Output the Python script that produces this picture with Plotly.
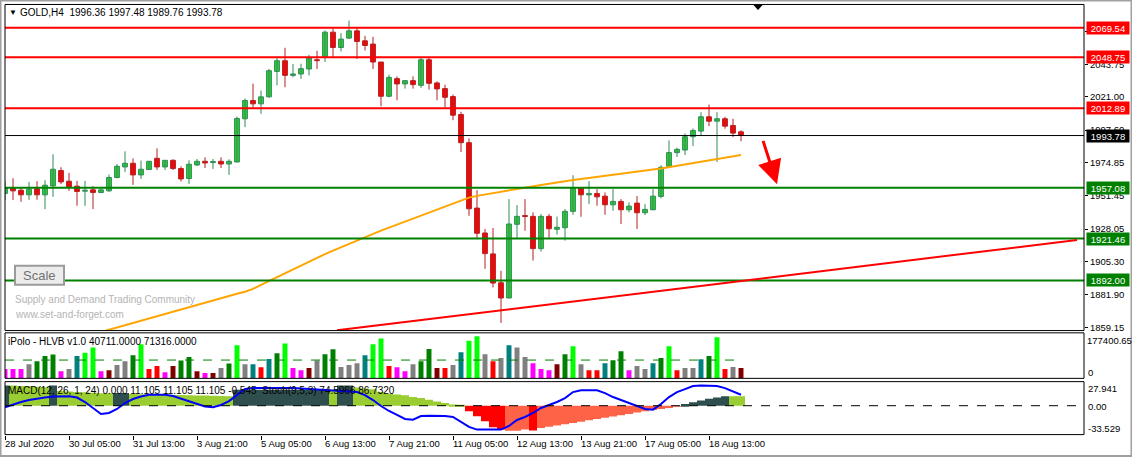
import plotly.graph_objects as go

W, H = 1132, 459

# ---------------- data ----------------
bars = list(range(93))
opens = [1953.11, 1956.60, 1955.41, 1952.13, 1956.32, 1952.13, 1958.42, 1969.19, 1961.71, 1958.21,
         1954.71, 1955.62, 1953.80, 1954.92, 1964.29, 1971.71, 1974.29, 1966.11, 1969.89, 1977.79,
         1971.71, 1976.39, 1970.59, 1963.60, 1973.11, 1975.69, 1974.79, 1975.69, 1973.80, 1975.20,
         2005.56, 2018.35, 2016.04, 2020.94, 2038.84, 2046.32, 2036.04, 2037.02, 2040.52, 2047.02,
         2048.63, 2066.39, 2055.62, 2062.20, 2067.30, 2060.31, 2058.00, 2045.41, 2021.36, 2033.74,
         2030.03, 2032.34, 2029.05, 2047.02, 2030.73, 2026.74, 2021.15, 2008.56, 1988.77, 1942.83,
         1925.34, 1910.66, 1890.38, 1879.68, 1931.43, 1937.58, 1937.02, 1914.36, 1937.02, 1927.93,
         1929.05, 1940.52, 1956.81, 1952.13, 1953.11, 1951.22, 1945.14, 1947.51, 1941.64, 1946.32,
         1939.54, 1941.64, 1951.01, 1971.99, 1981.78, 1983.60, 1992.97, 1996.88, 2006.95, 2003.88,
         2005.56, 2000.87, 1996.36]
highs = [1961.92, 1963.81, 1957.02, 1961.22, 1961.71, 1962.41, 1980.59, 1971.50, 1967.51, 1961.92,
         1961.92, 1958.21, 1956.32, 1966.39, 1973.80, 1982.69, 1977.79, 1976.18, 1975.69, 1984.78,
         1976.39, 1977.09, 1972.20, 1976.39, 1977.30, 1978.49, 1977.30, 1978.49, 1977.09, 2007.16,
         2019.75, 2030.24, 2025.34, 2040.52, 2048.21, 2055.41, 2044.02, 2044.22, 2050.52, 2053.32,
         2067.51, 2069.19, 2065.69, 2074.50, 2069.19, 2063.81, 2063.11, 2045.41, 2036.53, 2035.34,
         2032.83, 2035.34, 2048.21, 2048.63, 2031.85, 2029.54, 2022.55, 2010.45, 1991.78, 1955.41,
         1928.14, 1928.84, 1898.77, 1949.12, 1944.92, 1949.12, 1939.82, 1938.63, 1938.63, 1936.88,
         1942.13, 1965.90, 1956.81, 1961.71, 1956.11, 1953.80, 1956.11, 1949.12, 1946.81, 1951.22,
         1945.62, 1956.11, 1972.90, 1990.38, 1985.27, 1995.27, 1998.77, 2010.17, 2015.55, 2010.17,
         2006.95, 2005.56, 1997.48]
lows = [1948.42, 1948.42, 1947.23, 1948.63, 1948.63, 1942.13, 1950.73, 1959.61, 1954.92, 1944.44,
        1944.44, 1942.13, 1953.32, 1954.22, 1963.81, 1968.21, 1959.12, 1963.32, 1969.89, 1969.61,
        1969.61, 1969.61, 1961.50, 1959.82, 1972.41, 1971.01, 1970.31, 1971.01, 1966.11, 1974.99,
        1999.68, 2013.67, 2009.05, 2020.50, 2029.05, 2027.65, 2034.64, 2033.53, 2036.04, 2040.52,
        2045.41, 2048.63, 2052.83, 2061.50, 2047.51, 2053.53, 2040.52, 2014.36, 2020.66, 2018.56,
        2026.74, 2026.74, 2027.23, 2026.04, 2018.56, 2013.67, 2004.57, 1982.20, 1937.44, 1921.85,
        1900.17, 1887.09, 1862.20, 1879.50, 1921.64, 1926.95, 1905.97, 1912.27, 1921.85, 1924.16,
        1919.96, 1938.14, 1936.74, 1945.62, 1944.44, 1938.14, 1940.94, 1931.64, 1939.82, 1928.14,
        1937.93, 1941.40, 1949.61, 1971.80, 1978.70, 1980.10, 1986.39, 1994.09, 2000.38, 1975.20,
        1998.56, 1992.69, 1989.76]
closes = [1956.60, 1954.92, 1952.13, 1956.11, 1952.13, 1958.91, 1970.10, 1961.22, 1957.72, 1954.51,
          1955.41, 1953.80, 1955.62, 1964.29, 1972.20, 1974.29, 1966.11, 1970.10, 1975.69, 1971.71,
          1976.39, 1970.59, 1963.32, 1973.60, 1975.69, 1974.51, 1975.48, 1973.80, 1975.69, 2005.76,
          2018.35, 2016.04, 2020.94, 2039.33, 2046.32, 2036.04, 2037.02, 2040.73, 2048.21, 2046.32,
          2066.39, 2055.62, 2061.50, 2067.30, 2059.82, 2057.02, 2045.41, 2021.36, 2034.64, 2030.03,
          2032.34, 2029.54, 2047.02, 2030.45, 2026.53, 2020.66, 2008.07, 1988.77, 1942.34, 1925.13,
          1910.87, 1890.17, 1879.68, 1931.64, 1937.02, 1936.88, 1914.36, 1937.02, 1928.35, 1929.33,
          1940.52, 1956.81, 1952.13, 1953.11, 1950.73, 1945.14, 1947.51, 1941.64, 1944.22, 1939.54,
          1941.92, 1951.22, 1971.50, 1981.78, 1984.08, 1992.97, 1997.37, 2006.95, 2003.88, 2005.56,
          2000.38, 1995.48, 1993.78]
ma_values = [None] * 12 + [
    1855.8, 1857.4, 1859.1, 1860.7, 1862.3, 1863.9, 1865.5, 1867.1, 1868.7, 1870.3,
    1871.9, 1873.5, 1875.1, 1876.6, 1878.1, 1879.6, 1881.1, 1882.6, 1884.1, 1886.1,
    1888.9, 1891.6, 1894.4, 1897.2, 1900.0, 1902.8, 1905.3, 1907.9, 1910.5, 1913.0,
    1915.4, 1917.7, 1920.0, 1922.3, 1924.7, 1927.0, 1929.1, 1931.2, 1933.3, 1935.5,
    1937.6, 1939.7, 1941.8, 1943.9, 1946.1, 1948.1, 1950.2, 1951.4, 1952.4, 1953.4,
    1954.4, 1955.4, 1956.5, 1957.4, 1958.2, 1959.1, 1959.9, 1960.9, 1961.7, 1962.6,
    1963.3, 1964.1, 1964.8, 1965.6, 1966.3, 1967.0, 1967.8, 1968.5, 1969.2, 1970.0,
    1970.7, 1971.6, 1972.6, 1973.5, 1974.5, 1975.4, 1976.4, 1977.3, 1978.2, 1979.2,
    1980.1]

resistance_levels = [2069.54, 2048.75, 2012.89]
support_levels = [1957.08, 1921.46, 1892.00]
last_price = 1993.78
trend_x = [41.5, 134.0]
trend_y = [1857.0, 1920.45]
arrow_from = (94.7, 1991.1)
arrow_to = (96.5, 1959.6)

price_ticks = [2067.15, 2043.75, 2021.00, 1997.60, 1974.85, 1951.45, 1928.05, 1905.30, 1881.90, 1859.15]

volume_k = [36, 36, 36, 55, 67, 87, 93, 28, 36, 87, 100, 120, 28, 32, 52, 67, 90, 133, 36, 48,
            24, 48, 70, 83, 28, 21, 21, 40, 58, 129, 55, 55, 43, 75, 98, 136, 40, 32, 40, 70,
            94, 113, 44, 52, 59, 90, 133, 155, 48, 43, 28, 55, 67, 114, 40, 40, 52, 102, 147, 164,
            94, 67, 79, 129, 120, 83, 59, 36, 32, 55, 94, 125, 55, 32, 32, 59, 71, 106, 32, 48,
            36, 59, 79, 125, 32, 40, 40, 74, 87, 160, 36, 44, 40.711]
volume_type = list("MMMGDDDMGT" "LLMKGGDLRR" "MKDDKMKGDL" "GTRTDLMMKG" "DDGGGTLLRM"
                   "MGDDKRGTLL" "GRGTGGMMMK" "DLGRRTDDMG" "GTDLRGGTDL" "RGK")
volume_avg = 71316.0

macd_hist = [23.5, 23.5, 23.0, 22.5, 22.0, 21.5, 23.5, 17.0, 16.5, 16.0,
             15.5, 15.0, 14.5, 14.5, 14.7, 14.7, 13.5, 13.3, 13.1, 12.9,
             12.7, 12.5, 12.3, 12.1, 11.9, 11.7, 11.5, 11.3, 11.0, 18.5,
             18.5, 18.5, 18.5, 18.5, 18.5, 18.5, 18.5, 18.5, 18.5, 18.5,
             18.5, 18.0, 23.5, 23.5, 21.0, 20.0, 19.0, 16.0, 14.0, 13.0,
             12.0, 10.0, 9.0, 7.0, 5.0, 3.0, 1.5, 0.5, -6.5, -12.3,
             -18.0, -25.0, -27.6, -29.2, -29.2, -27.7, -28.9, -25.8, -24.5, -23.0,
             -21.5, -20.0, -18.5, -17.0, -15.5, -14.0, -12.5, -11.0, -9.5, -8.0,
             -6.5, -5.0, -3.8, -2.7, -1.0, 2.0, 4.0, 6.0, 8.0, 9.5,
             10.9, 11.1, 11.105]
macd_type = list("SLLLLLSLLL" "LLLLSSLLLL" "LLLLLLLLLS" "SSSSSSSSSS" "SLSSLLLLLL"
                 "LLLLLLLLRR" "RRRTTTRTTT" "TTTTTTTTTT" "TTTTTSSSSS" "SLL")
stoch_line = [-1.85, 1.39, 4.28, 6.59, 8.32, 9.48, 10.64, 10.87, 10.87, 9.48,
              4.28, -2.66, -9.59, -8.44, -3.81, 3.12, 7.75, 10.64, 12.72, 12.72,
              12.72, 11.21, 8.32, 5.43, 2.54, -0.92, -1.85, 0.81, 5.43, 12.37,
              19.31, 20.46, 20.46, 20.46, 21.04, 21.04, 20.46, 19.88, 19.31, 18.73,
              18.15, 17.57, 17.57, 16.99, 15.84, 12.37, 6.59, -0.35, -6.13, -10.75,
              -15.37, -16.18, -11.91, -11.56, -11.56, -11.91, -13.06, -18.84, -24.62, -27.74,
              -27.74, -27.74, -27.74, -23.47, -16.53, -13.06, -8.44, -2.66, 0.81, 4.28,
              8.90, 15.84, 17.80, 17.80, 17.80, 14.68, 10.06, 6.59, 3.12, -0.69,
              -3.81, -4.62, 1.97, 10.06, 15.84, 19.31, 22.78, 23.58, 23.58, 22.78,
              20.46, 16.99, 12.72]

date_ticks = [0, 8, 16, 24, 32, 40, 48, 56, 64, 72, 80, 88]
date_labels = ["28 Jul 2020", "30 Jul 05:00", "31 Jul 13:00", "3 Aug 21:00", "5 Aug 05:00",
               "6 Aug 13:00", "7 Aug 21:00", "11 Aug 05:00", "12 Aug 13:00", "13 Aug 21:00",
               "17 Aug 05:00", "18 Aug 13:00"]

# ---------------- helpers (pixel -> paper) ----------------
def px(x):
    return x / W

def py(y):
    return 1 - y / H

FONT = "Liberation Sans"
X_L, X_R = 5, 1084
MAIN = (4.5, 332.0)
VOL = (334.3, 380.0)
MACD = (383.3, 436.5)

fig = go.Figure()

# wicks
for up, col in [(True, "#2e8b57"), (False, "#b22222")]:
    xs, ys = [], []
    for i in bars:
        if (closes[i] >= opens[i]) == up:
            xs += [i, i, None]
            ys += [lows[i], highs[i], None]
    fig.add_trace(go.Scatter(x=xs, y=ys, mode="lines", line=dict(color=col, width=1),
                             hoverinfo="skip", showlegend=False))

# bodies
for up, fill, edge in [(True, "#32cd32", "#2e8b57"), (False, "#ff0000", "#b22222")]:
    idx = [i for i in bars if (closes[i] >= opens[i]) == up]
    fig.add_trace(go.Bar(x=idx,
                         base=[min(opens[i], closes[i]) for i in idx],
                         y=[max(abs(closes[i] - opens[i]), 0.4) for i in idx],
                         width=0.6, marker=dict(color=fill, line=dict(color=edge, width=1)),
                         showlegend=False, hoverinfo="skip"))

# moving average
fig.add_trace(go.Scatter(x=bars, y=ma_values, mode="lines", line=dict(color="#ffa500", width=2),
                         showlegend=False, hoverinfo="skip"))

# volume pane
vcols = {"M": "#ff00ff", "G": "#808080", "D": "#008000", "T": "#008080",
         "L": "#00ff00", "R": "#ff0000", "K": "#800000"}
fig.add_trace(go.Bar(x=bars, y=[v * 1000 for v in volume_k], width=0.62,
                     marker=dict(color=[vcols[c] for c in volume_type], line=dict(width=0)),
                     yaxis="y2", showlegend=False, hoverinfo="skip"))
fig.add_trace(go.Scatter(x=[bars[0], bars[-1]], y=[volume_avg, volume_avg], mode="lines",
                         line=dict(color="#008000", width=1, dash="dash"), yaxis="y2",
                         showlegend=False, hoverinfo="skip"))

# macd pane
hcols = {"L": "#9acd32", "S": "#2f4f4f", "R": "#ff0000", "T": "#ff6347"}
fig.add_trace(go.Bar(x=bars, y=macd_hist, width=1.0,
                     marker=dict(color=[hcols[c] for c in macd_type], line=dict(width=0)),
                     yaxis="y3", showlegend=False, hoverinfo="skip"))
fig.add_trace(go.Scatter(x=bars, y=stoch_line, mode="lines", line=dict(color="#0000ff", width=2),
                         yaxis="y3", showlegend=False, hoverinfo="skip"))

shapes = []
for lv in resistance_levels:
    shapes.append(dict(type="line", xref="paper", yref="y", x0=px(X_L), x1=px(X_R), y0=lv, y1=lv,
                       line=dict(color="#ff0000", width=2)))
for lv in support_levels:
    shapes.append(dict(type="line", xref="paper", yref="y", x0=px(X_L), x1=px(X_R), y0=lv, y1=lv,
                       line=dict(color="#008000", width=2)))
shapes.append(dict(type="line", xref="paper", yref="y", x0=px(X_L), x1=px(X_R), y0=last_price,
                   y1=last_price, line=dict(color="#000000", width=1)))
shapes.append(dict(type="line", xref="x", yref="y", x0=trend_x[0], x1=trend_x[1],
                   y0=trend_y[0], y1=trend_y[1], line=dict(color="#ff0000", width=2)))
shapes.append(dict(type="line", xref="paper", yref="y3", x0=px(X_L), x1=px(X_R), y0=0, y1=0,
                   line=dict(color="#000000", width=1, dash="dash")))
for (t, b) in [MAIN, VOL, MACD]:
    shapes.append(dict(type="rect", xref="paper", yref="paper", x0=px(X_L), x1=px(X_R),
                       y0=py(b), y1=py(t), line=dict(color="#000000", width=1)))
shapes.append(dict(type="rect", xref="paper", yref="paper", x0=px(0.5), x1=px(1131.5),
                   y0=py(458), y1=py(0.5), line=dict(color="#a0a0a0", width=2)))
shapes.append(dict(type="rect", xref="paper", yref="paper", x0=px(15), x1=px(64),
                   y0=py(286), y1=py(267), fillcolor="#ececec", line=dict(color="#9a9a9a", width=2)))
shapes.append(dict(type="path", xref="paper", yref="paper",
                   path=f"M {px(753)} {py(4.5)} L {px(763)} {py(4.5)} L {px(758)} {py(10)} Z",
                   fillcolor="#000000", line=dict(width=0)))

ann = []
def label(x, y, text, size=9.5, color="#000000", anchor="left", family=FONT):
    ann.append(dict(xref="paper", yref="paper", x=px(x), y=py(y), text=text, showarrow=False,
                    xanchor=anchor, yanchor="middle", font=dict(size=size, color=color, family=family)))

label(7, 12.5, "▼", size=8)
label(18, 12.5, "GOLD,H4\u00a0 1996.36 1997.48 1989.76 1993.78", size=10)
label(6, 343.3, "iPolo - HLVB v1.0 40711.0000 71316.0000", size=10)
label(6, 392.3, "MACD(12, 26, 1, 24) 0.000 11.105 11.105 11.105 -0.545\u00a0 Stoch(9,5,3) 74.5966 86.7320", size=10)
label(39.5, 276.5, "Scale", size=13, color="#707070", anchor="center")
label(13, 300.7, "Supply and Demand Trading Community", size=10, color="#b4b4b4")
label(13, 315.7, "www.set-and-forget.com", size=10, color="#b4b4b4")
label(1085, 341.5, "177400.65", size=9.5)
label(1086, 374.0, "0")
label(1086, 390.7, "27.941")
label(1086, 408.5, "0.00")
label(1086, 430.0, "-33.529")

for lv, col in ([(v, "#ff0000") for v in resistance_levels] + [(last_price, "#000000")] +
                [(v, "#008000") for v in support_levels]):
    ann.append(dict(xref="paper", yref="y", x=px(1086), y=lv, text=f"{lv:.2f}", showarrow=False,
                    xanchor="left", yanchor="middle", bgcolor=col, width=40, height=10,
                    borderpad=1, font=dict(size=9.5, color="#ffffff", family=FONT)))

for b, t in zip(date_ticks, date_labels):
    ann.append(dict(xref="x", yref="paper", x=b, y=py(445), text=t, showarrow=False,
                    xanchor="left", yanchor="middle", xshift=-2,
                    font=dict(size=9.5, color="#000000", family=FONT)))

ann.append(dict(xref="x", yref="y", x=arrow_to[0], y=arrow_to[1], axref="x", ayref="y",
                ax=arrow_from[0], ay=arrow_from[1], text="", showarrow=True, arrowhead=2,
                arrowsize=1.6, arrowwidth=3, arrowcolor="#ff0000"))

fig.update_layout(
    width=W, height=H, margin=dict(l=0, r=0, t=0, b=0),
    paper_bgcolor="#ffffff", plot_bgcolor="#ffffff",
    font=dict(family=FONT, size=9.5, color="#000000"),
    barmode="overlay", showlegend=False,
    shapes=shapes, annotations=ann,
    xaxis=dict(domain=[px(X_L), px(X_R)], range=[0, (X_R - X_L) / 8.0], anchor="y3",
               showgrid=False, zeroline=False, showline=False, showticklabels=False,
               ticks="outside", ticklen=4, tickcolor="#000000", tickvals=date_ticks),
    yaxis=dict(domain=[py(MAIN[1]), py(MAIN[0])], range=[1856.81, 2085.83], side="right",
               anchor="x", showgrid=False, zeroline=False, showline=False,
               tickvals=price_ticks, ticktext=[f"{v:.2f}" for v in price_ticks],
               ticks="outside", ticklen=3, tickcolor="#000000",
               tickfont=dict(size=9.5, family=FONT, color="#000000")),
    yaxis2=dict(domain=[py(VOL[1]), py(VOL[0])], range=[0, 177400.65], anchor="x",
                showgrid=False, zeroline=False, showline=False, showticklabels=False),
    yaxis3=dict(domain=[py(MACD[1]), py(MACD[0])], range=[-33.529, 27.941], anchor="x",
                showgrid=False, zeroline=False, showline=False, showticklabels=False),
)

fig.write_html("out.html", config={"displayModeBar": False},
               post_script="document.body.style.margin='0';document.body.style.overflow='hidden';")
